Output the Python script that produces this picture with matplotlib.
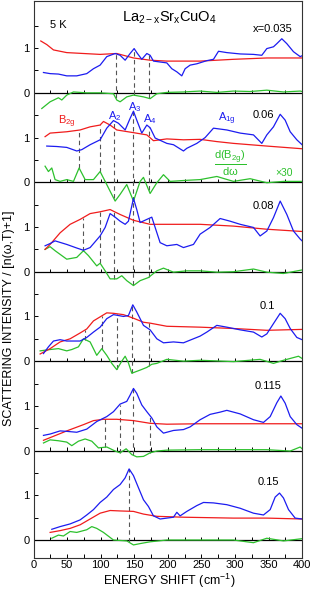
import numpy as np
import matplotlib
matplotlib.use("Agg")
import matplotlib.pyplot as plt

plt.rcParams['font.family'] = ['Liberation Sans', 'DejaVu Sans']
plt.rcParams['mathtext.fontset'] = 'custom'
plt.rcParams['mathtext.rm'] = 'Liberation Sans'
plt.rcParams['mathtext.it'] = 'Liberation Sans:italic'

# doping levels, top to bottom
dopings = ["x=0.035", "0.06", "0.08", "0.1", "0.115", "0.15"]

# (energy shift cm-1, intensity)
blue_035 = [(14.7, 0.455), (24.6, 0.43), (37, 0.42), (49.4, 0.38), (64.3, 0.38), (79.2, 0.43), (89.2, 0.54),
            (99.1, 0.62), (109, 0.81), (121.5, 0.88), (128.9, 0.84), (136.4, 0.73), (143.8, 0.88), (149.8, 0.99),
            (154.7, 0.88), (161.2, 0.75), (168.7, 0.88), (173.6, 0.84), (178.6, 0.71), (188.5, 0.69), (198.5, 0.67),
            (205.9, 0.54), (213.4, 0.47), (220.8, 0.38), (225.8, 0.54), (233.2, 0.62), (243.2, 0.65), (258.1, 0.72),
            (268, 0.75), (275.5, 0.93), (287.9, 0.90), (307.8, 0.87), (327.6, 0.86), (340, 0.84), (347.5, 0.99),
            (357.4, 1.03), (362.4, 1.10), (369.8, 1.21), (377.3, 1.10), (387.2, 0.92), (397.2, 0.81), (400, 0.83)]
red_035 = [(10.7, 1.16), (19.6, 1.08), (29.6, 0.96), (49.4, 0.90), (74.3, 0.88), (99.1, 0.86), (123.9, 0.88),
           (148.8, 0.78), (173.6, 0.73), (198.5, 0.71), (248.1, 0.71), (297.8, 0.75), (347.5, 0.78), (400, 0.78)]
green_035 = [(12.2, -0.35), (24.6, -0.2), (37, -0.11), (42, -0.16), (49.4, -0.05), (59.4, 0.02), (79.2, 0.0),
             (99.1, 0.0), (119, -0.02), (123.9, -0.16), (128.9, -0.2), (138.8, -0.09), (148.8, -0.05),
             (163.7, -0.09), (173.6, -0.13), (183.6, -0.02), (198.5, 0.01), (223.3, 0.02), (248.1, 0.04),
             (273, 0.01), (297.8, 0.04), (322.6, 0.03), (347.5, 0.06), (372.3, 0.02), (397.2, 0.04), (400, 0.03)]

blue_06 = [(19.6, 0.81), (34.5, 0.80), (49.4, 0.78), (64.3, 0.70), (71.8, 0.73), (84.2, 0.84), (99.1, 0.95),
           (109, 1.21), (119, 1.38), (126.4, 1.32), (136.4, 1.17), (143.8, 1.43), (148.8, 1.59), (153.7, 1.39),
           (161.2, 1.10), (168.7, 1.28), (173.6, 1.22), (181.1, 0.99), (198.5, 0.87), (208.4, 0.84), (223.3, 0.70),
           (228.3, 0.76), (243.2, 0.87), (255.6, 1.0), (268, 1.21), (287.9, 1.17), (307.8, 1.10), (327.6, 1.06),
           (340, 0.87), (347.5, 1.06), (357.4, 1.24), (367.4, 1.52), (374.8, 1.39), (382.3, 1.13), (392.2, 0.95),
           (400, 0.84)]
red_06 = [(17.1, 1.02), (24.6, 1.10), (49.4, 1.13), (69.3, 1.17), (84.2, 1.24), (99.1, 1.28), (104.1, 1.36),
          (114, 1.28), (123.9, 1.17), (148.8, 1.11), (168.7, 1.06), (178.6, 0.93), (198.5, 0.97), (223.3, 0.95),
          (248.1, 0.96), (273, 0.91), (297.8, 0.87), (347.5, 0.81), (400, 0.75)]
green_06 = [(17.1, 0.36), (22.1, 0.24), (27.1, 0.32), (32, 0.06), (39.5, 0.02), (49.4, 0.06), (59.4, 0.02),
            (67.8, 0.32), (76.8, 0.06), (89.2, 0.06), (99.1, 0.24), (106.6, 0.02), (114, -0.2), (121.5, -0.42),
            (128.9, -0.27), (138.8, -0.05), (148.8, -0.42), (158.7, 0.02), (163.7, 0.11), (173.6, -0.25),
            (183.6, -0.01), (193.5, 0.17), (203.4, 0.02), (223.3, 0.04), (248.1, 0.06), (273, 0.13),
            (297.8, 0.02), (322.6, 0.08), (347.5, -0.01), (372.3, 0.02), (400, 0.02)]

blue_08 = [(17.1, 0.58), (24.6, 0.63), (32, 0.69), (49.4, 0.61), (64.3, 0.53), (74.3, 0.48), (84.2, 0.54),
           (99.1, 0.80), (106.6, 0.99), (114, 1.30), (121.5, 1.22), (128.9, 1.13), (136.4, 1.06), (141.3, 1.13),
           (148.8, 1.64), (153.7, 1.39), (158.7, 1.10), (168.7, 1.17), (176.1, 1.22), (181.1, 0.99), (188.5, 0.65),
           (198.5, 0.58), (213.4, 0.61), (223.3, 0.54), (238.2, 0.61), (248.1, 0.84), (263, 0.99), (277.9, 1.19),
           (292.8, 1.13), (307.8, 1.06), (327.6, 0.99), (337.5, 0.80), (347.5, 0.91), (357.4, 1.21),
           (367.4, 1.58), (377.3, 1.28), (387.2, 0.91), (397.2, 0.73), (400, 0.69)]
red_08 = [(17.1, 0.50), (24.6, 0.61), (39.5, 0.87), (54.4, 1.06), (69.3, 1.17), (84.2, 1.30), (99.1, 1.34),
          (114, 1.39), (128.9, 1.28), (148.8, 1.15), (173.6, 1.06), (198.5, 1.06), (248.1, 1.06), (297.8, 1.02),
          (347.5, 0.95), (400, 0.90)]
green_08 = [(17.1, 0.50), (24.6, 0.56), (32, 0.47), (49.4, 0.28), (64.3, 0.32), (74.3, 0.47), (81.7, 0.36),
            (94.1, 0.13), (99.1, 0.19), (106.6, 0.02), (114, -0.16), (123.9, -0.16), (131.4, -0.09),
            (138.8, -0.2), (148.8, -0.31), (158.7, -0.2), (171.1, -0.13), (183.6, 0.02), (193.5, 0.08),
            (208.4, -0.01), (228.3, 0.02), (248.1, 0.02), (273, -0.01), (297.8, 0.0), (327.6, 0.06),
            (347.5, -0.01), (372.3, -0.04), (400, 0.04)]

blue_1 = [(14.7, 0.17), (22.1, 0.32), (29.6, 0.45), (39.5, 0.48), (49.4, 0.45), (69.3, 0.45), (79.2, 0.53),
          (89.2, 0.65), (99.1, 0.76), (109, 0.95), (119, 1.04), (133.9, 1.0), (141.3, 1.02), (147.8, 1.26),
          (153.7, 1.10), (163.7, 0.8), (173.6, 0.70), (183.6, 0.50), (193.5, 0.41), (208.4, 0.43), (223.3, 0.41),
          (233.2, 0.47), (248.1, 0.56), (258.1, 0.65), (273, 0.80), (287.9, 0.76), (307.8, 0.70), (327.6, 0.65),
          (340, 0.54), (347.5, 0.61), (357.4, 0.84), (367.4, 1.07), (374.8, 0.95), (382.3, 0.73), (392.2, 0.53),
          (400, 0.48)]
red_1 = [(9.7, 0.16), (24.6, 0.28), (39.5, 0.43), (54.4, 0.50), (69.3, 0.63), (79.2, 0.72), (89.2, 0.90),
         (99.1, 0.99), (109, 1.08), (119, 1.07), (133.9, 1.04), (148.8, 0.96), (163.7, 0.87), (173.6, 0.85),
         (198.5, 0.78), (248.1, 0.76), (297.8, 0.73), (347.5, 0.69), (400, 0.71)]
green_1 = [(9.7, 0.23), (24.6, 0.26), (37, 0.28), (49.4, 0.23), (56.9, 0.26), (66.8, 0.32), (74.3, 0.50),
           (84.2, 0.43), (94.1, 0.13), (101.6, 0.28), (109, 0.13), (116.5, -0.05), (123.9, -0.19), (131.4, 0.0),
           (136.4, 0.11), (141.3, -0.04), (146.3, -0.27), (158.7, -0.2), (168.7, -0.14), (176.1, -0.07),
           (183.6, -0.05), (198.5, 0.04), (223.3, 0.0), (248.1, 0.02), (297.8, -0.01), (337.5, 0.04),
           (357.4, -0.05), (372.3, 0.02), (394.7, 0.11), (400, 0.06)]

blue_115 = [(14.7, 0.34), (24.6, 0.37), (39.5, 0.44), (49.4, 0.43), (64.3, 0.41), (79.2, 0.48), (94.1, 0.65),
            (109, 0.76), (119, 0.87), (128.9, 1.04), (138.8, 1.10), (143.8, 1.24), (148.8, 1.39), (153.7, 1.28),
            (161.2, 1.02), (168.7, 0.87), (176.1, 0.73), (183.6, 0.53), (193.5, 0.39), (208.4, 0.45),
            (223.3, 0.47), (233.2, 0.53), (248.1, 0.69), (263, 0.81), (277.9, 0.86), (287.9, 0.90),
            (307.8, 0.82), (327.6, 0.69), (342.5, 0.63), (352.5, 0.76), (362.4, 1.07), (368.4, 1.22),
            (374.8, 1.06), (382.3, 0.76), (392.2, 0.58), (400, 0.50)]
red_115 = [(14.7, 0.23), (29.6, 0.32), (49.4, 0.44), (74.3, 0.58), (89.2, 0.67), (104.1, 0.70), (123.9, 0.70),
           (148.8, 0.67), (173.6, 0.61), (198.5, 0.59), (248.1, 0.60), (297.8, 0.60), (347.5, 0.60), (400, 0.60)]
green_115 = [(14.7, 0.17), (24.6, 0.24), (37, 0.22), (49.4, 0.19), (56.9, 0.11), (66.8, 0.21), (76.8, 0.26),
             (86.7, 0.21), (96.6, 0.06), (109, 0.08), (121.5, -0.01), (128.9, -0.05), (137.9, 0.04),
             (146.3, -0.09), (153.7, -0.14), (163.7, -0.13), (173.6, -0.05), (183.6, -0.01), (198.5, 0.01),
             (248.1, 0.02), (297.8, 0.02), (347.5, 0.02), (382.3, -0.01), (397.2, 0.08), (400, 0.04)]

blue_15 = [(27.1, 0.24), (39.5, 0.30), (54.4, 0.36), (69.3, 0.45), (79.2, 0.56), (89.2, 0.68), (99.1, 0.84),
           (109, 0.96), (119, 1.13), (128.9, 1.24), (136.4, 1.39), (142.3, 1.59), (148.8, 1.44), (156.2, 1.17),
           (163.7, 0.90), (171.1, 0.75), (178.6, 0.54), (188.5, 0.47), (198.5, 0.49), (208.4, 0.51),
           (213.4, 0.62), (218.3, 0.54), (228.3, 0.64), (243.2, 0.77), (253.1, 0.84), (268, 0.83),
           (287.9, 0.79), (307.8, 0.71), (327.6, 0.60), (342.5, 0.56), (352.5, 0.68), (359.9, 0.96),
           (366.4, 1.05), (372.3, 0.94), (379.8, 0.68), (389.7, 0.49), (400, 0.47)]
red_15 = [(24.6, 0.17), (39.5, 0.21), (54.4, 0.26), (69.3, 0.34), (84.2, 0.47), (99.1, 0.60), (114, 0.66),
          (128.9, 0.65), (148.8, 0.64), (163.7, 0.58), (183.6, 0.53), (223.3, 0.51), (297.8, 0.49),
          (347.5, 0.49), (400, 0.47)]
green_15 = [(27.1, 0.04), (37, 0.11), (44.5, 0.09), (54.4, 0.19), (64.3, 0.17), (79.2, 0.23), (86.7, 0.30),
            (94.1, 0.26), (104.1, 0.17), (119, 0.0), (138.8, -0.02), (148.8, -0.11), (158.7, -0.08),
            (173.6, -0.04), (198.5, 0.0), (248.1, 0.0), (297.8, 0.0), (327.6, -0.06), (347.5, 0.04),
            (372.3, -0.02), (400, 0.03)]

# phonon positions (dashed markers)
dash_035 = [122.5, 150, 172.6]
dash_06 = [67.8, 99, 119.5, 148.7, 171.6]
dash_08 = [73.8, 98.6, 119.5, 147.8, 172]
dash_1 = [77, 102, 124.4, 147.3, 172.6]
dash_115 = [107, 128, 148.7, 174]
dash_15 = [142.3]

panels = [
    (blue_035, red_035, green_035, dash_035),
    (blue_06, red_06, green_06, dash_06),
    (blue_08, red_08, green_08, dash_08),
    (blue_1, red_1, green_1, dash_1),
    (blue_115, red_115, green_115, dash_115),
    (blue_15, red_15, green_15, dash_15),
]
label_pos = [(357, 1.43), (342, 1.51), (342, 1.47), (348, 1.24), (350, 1.44), (350, 1.30)]

BLUE = '#1c1cf0'
RED = '#f01c1c'
GREEN = '#2cc02c'
step = 2.0

fig = plt.figure(figsize=(3.14, 5.91), dpi=100)
ax = fig.add_axes([0.107, 0.056, 0.855, 0.942])

for i, (b, r, g, dashes) in enumerate(panels):
    off = (len(panels) - 1 - i) * step
    bx, by = np.array(b).T
    rx, ry = np.array(r).T
    gx, gy = np.array(g).T
    ax.axhline(off, color='k', lw=0.9, zorder=1)
    ax.vlines(np.arange(25, 400, 25), off, off + 0.07, color='k', lw=0.7, zorder=1)
    for d in dashes:
        lo = np.interp(d, gx, gy)
        hi = max(np.interp(d, bx, by), np.interp(d, rx, ry))
        ax.plot([d, d], [off + lo, off + hi], color='#555555', lw=0.8, ls=(0, (4, 3)), zorder=2)
    ax.plot(gx, gy + off, color=GREEN, lw=0.9, zorder=3)
    ax.plot(rx, ry + off, color=RED, lw=0.9, zorder=4)
    ax.plot(bx, by + off, color=BLUE, lw=0.9, zorder=5)
    lx, ly = label_pos[i]
    ax.text(lx, ly + off, dopings[i], fontsize=8, ha='center', va='center')

top = (len(panels) - 1) * step
ax.text(37, top + 1.52, '5 K', fontsize=8, ha='center', va='center')
ax.text(203, top + 1.68, r'La$_{\mathregular{2-x}}$Sr$_{\mathregular{x}}$CuO$_4$', fontsize=10.5,
        ha='center', va='center')

p2 = 4 * step
ax.text(50, p2 + 1.36, r'B$_{\mathregular{2g}}$', color=RED, fontsize=8, ha='center', va='center')
ax.text(121.5, p2 + 1.47, r'A$_2$', color=BLUE, fontsize=8, ha='center', va='center')
ax.text(151, p2 + 1.68, r'A$_3$', color=BLUE, fontsize=8, ha='center', va='center')
ax.text(173.6, p2 + 1.42, r'A$_4$', color=BLUE, fontsize=8, ha='center', va='center')
ax.text(288, p2 + 1.42, r'A$_{\mathregular{1g}}$', color=BLUE, fontsize=8, ha='center', va='center')
ax.text(293, p2 + 0.42, r'$\frac{\mathregular{d(B_{2g})}}{\mathregular{d\omega}}$', color=GREEN,
        fontsize=11.5, ha='center', va='center')
ax.text(373, p2 + 0.2, '\u00d730', color=GREEN, fontsize=7.5, ha='center', va='center')

ax.set_xlim(0, 400)
ax.set_ylim(-0.4, top + 2.05)
ax.set_xticks(np.arange(0, 401, 50))
ax.set_xticks(np.arange(25, 400, 50), minor=True)
yt = np.arange(0, top + 1.6, 0.5)
ax.set_yticks(yt)
ax.set_yticklabels(['0' if (v % step) == 0 else ('1' if (v % step) == 1 else '') for v in yt])
ax.tick_params(axis='both', direction='in', labelsize=8, length=3, width=0.7)
ax.tick_params(axis='x', which='minor', direction='in', length=3, width=0.7)
ax.tick_params(axis='x', pad=1.5)
ax.tick_params(axis='y', pad=3)
for s in ax.spines.values():
    s.set_linewidth(0.8)
    s.set_color('#333333')

fig.text(0.54, 0.002, 'ENERGY SHIFT (cm$^{-1}$)', fontsize=9, ha='center', va='bottom')
fig.text(0.028, 0.462, 'SCATTERING INTENSITY / [n(\u03c9,T)+1]', fontsize=9, rotation=90,
         ha='center', va='center')

fig.savefig('out.png', dpi=100)
